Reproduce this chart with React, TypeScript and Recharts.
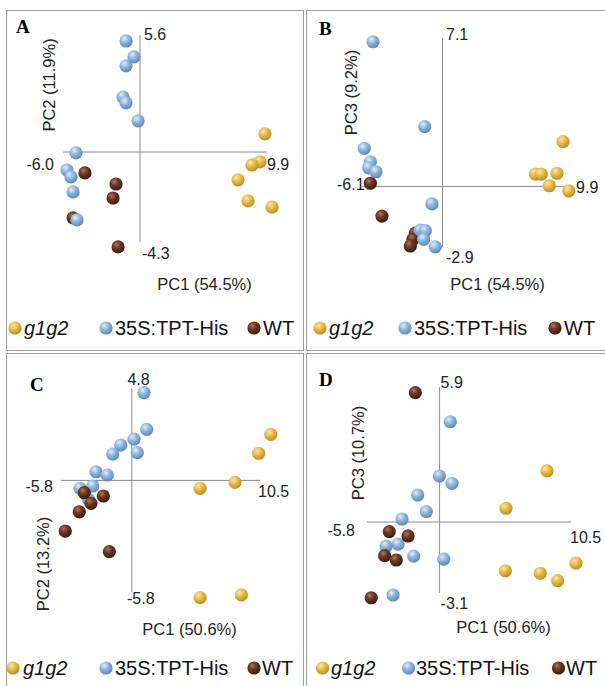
import React from 'react';
import { ScatterChart, Scatter, XAxis, YAxis, ReferenceLine, ReferenceDot } from 'recharts';

// ---------- data ----------
const seriesNames = ['g1g2', '35S:TPT-His', 'WT'];

// Panel A: PC1 vs PC2
const aG1g2 = [[9.74, 0.87], [9.35, -0.47], [8.73, -0.62], [7.64, -1.33], [8.42, -2.34], [10.29, -2.63]];
const aTpt = [[-1.09, 5.31], [-0.47, 4.55], [-1.09, 4.12], [-1.32, 2.63], [-1.09, 2.35], [-0.15, 1.49], [-4.99, -0.04], [-5.69, -0.86], [-5.38, -1.19], [-5.22, -1.91], [-4.91, -3.25]];
const aWt = [[-4.29, -1.0], [-1.87, -1.53], [-2.1, -2.2], [-5.22, -3.15], [-1.71, -4.54]];
const aXTicks = [-6.0, 9.9];
const aYTicks = [-4.3, 5.6];

// Panel B: PC1 vs PC3
const bG1g2 = [[9.14, 2.14], [7.04, 0.59], [7.49, 0.59], [8.68, 0.63], [8.1, 0.03], [9.57, -0.21]];
const bTpt = [[-5.27, 6.92], [-1.35, 2.86], [-5.93, 1.82], [-5.47, 1.18], [-5.6, 0.89], [-5.04, 0.7], [-0.8, -0.84], [-1.68, -2.09], [-1.3, -2.12], [-1.43, -2.53], [-0.55, -2.89]];
const bWt = [[-5.47, 0.15], [-4.59, -1.42], [-2.06, -2.24], [-2.24, -2.53], [-2.44, -2.85]];
const bXTicks = [-6.1, 9.9];
const bYTicks = [-2.9, 7.1];

// Panel C: PC1 vs PC2
const cG1g2 = [[11.38, 2.39], [10.39, 1.41], [8.45, -0.1], [5.59, -0.41], [5.59, -6.09], [8.97, -5.95]];
const cTpt = [[1.0, 4.56], [1.22, 2.65], [0.18, 2.14], [-0.91, 1.84], [-1.56, 1.37], [0.45, 1.44], [-2.93, 0.45], [-2.01, 0.28], [-4.24, -0.41], [-3.2, -0.29], [-3.56, -0.97]];
const cWt = [[-3.89, -0.64], [-2.33, -0.81], [-3.34, -1.19], [-4.3, -1.63], [-5.45, -2.63], [-1.84, -3.7]];
const cXTicks = [-5.8, 10.5];
const cYTicks = [-5.8, 4.8];

// Panel D: PC1 vs PC3
const dG1g2 = [[8.58, 2.23], [5.3, 0.6], [5.25, -2.13], [8.04, -2.24], [9.43, -2.56], [10.89, -1.8]];
const dTpt = [[0.85, 4.38], [-0.02, 2.01], [0.99, 1.69], [-1.75, 1.18], [-1.06, 0.45], [-3.0, 0.13], [-3.32, -0.97], [-4.28, -1.05], [-2.07, -1.49], [0.33, -1.62], [-3.72, -3.19]];
const dWt = [[-1.94, 5.65], [-4.02, -0.42], [-2.52, -0.61], [-4.39, -1.47], [-3.46, -1.66], [-5.46, -3.31]];
const dXTicks = [-5.8, 10.5];
const dYTicks = [-3.1, 5.9];

const xTitles = ['PC1 (54.5%)', 'PC1 (54.5%)', 'PC1 (50.6%)', 'PC1 (50.6%)'];
const yTitles = ['PC2 (11.9%)', 'PC3 (9.2%)', 'PC2 (13.2%)', 'PC3 (10.7%)'];
const panelLetters = ['A', 'B', 'C', 'D'];

const toPts = (arr: number[][]) => arr.map(([x, y]) => ({ x, y }));

// ---------- layout ----------
const FONT = '"Liberation Sans", Arial, Helvetica, sans-serif';
const GRAD = ['gYel', 'gBlu', 'gBrn'];

type Anchor = 'start' | 'middle' | 'end';
type Off = [number, number, Anchor];

// series always [g1g2, TPT, WT]; order = drawing order (last on top)
const panels = [
  {
    frame: { L: 6, T: 10, W: 298, H: 341 },
    origin: { ox: 140, oy: 152, sx: 12.83, sy: 20.91 },
    series: [aG1g2, aTpt, aWt], order: [0, 2, 1],
    xt: aXTicks, yt: aYTicks,
    off: { xMin: [-9, 18, 'end'] as Off, xMax: [0, 18, 'start'] as Off, yMax: [4, 5, 'start'] as Off, yMin: [2, 17, 'start'] as Off },
    letter: [16, 33], xTitle: [204.5, 290], yTitle: [55, 85],
    legend: { dotY: 328, base: 335, dots: [15, 106, 254], texts: [24, 115, 263] },
  },
  {
    frame: { L: 306, T: 10, W: 302, H: 341 },
    origin: { ox: 442.5, oy: 186.4, sx: 13.19, sy: 20.9 },
    series: [bG1g2, bTpt, bWt], order: [0, 2, 1],
    xt: bXTicks, yt: bYTicks,
    off: { xMin: [2.5, 3.6, 'end'] as Off, xMax: [3, 6.6, 'start'] as Off, yMax: [3.5, 2, 'start'] as Off, yMin: [3.5, 16, 'start'] as Off },
    letter: [319, 35], xTitle: [497.5, 290], yTitle: [357, 92.5],
    legend: { dotY: 328, base: 335, dots: [320, 405, 555], texts: [329, 414, 564] },
  },
  {
    frame: { L: 6, T: 353, W: 298, H: 340 },
    origin: { ox: 131.8, oy: 480.4, sx: 12.21, sy: 19.25 },
    series: [cG1g2, cTpt, cWt], order: [0, 1, 2],
    xt: cXTicks, yt: cYTicks,
    off: { xMin: [-8, 11.6, 'end'] as Off, xMax: [-2, 16.6, 'start'] as Off, yMax: [6.7, -3, 'middle'] as Off, yMin: [9, 12, 'middle'] as Off },
    letter: [30, 391], xTitle: [189.5, 635], yTitle: [48.5, 564],
    legend: { dotY: 668, base: 675, dots: [13, 106, 254], texts: [23, 115, 262] },
  },
  {
    frame: { L: 306, T: 353, W: 302, H: 340 },
    origin: { ox: 439.6, oy: 522, sx: 12.52, sy: 22.89 },
    series: [dG1g2, dTpt, dWt], order: [0, 1, 2],
    xt: dXTicks, yt: dYTicks,
    off: { xMin: [-12, 14, 'end'] as Off, xMax: [-1, 21, 'start'] as Off, yMax: [1, 1, 'start'] as Off, yMin: [1, 16, 'start'] as Off },
    letter: [319, 386], xTitle: [503.5, 633], yTitle: [364, 453],
    legend: { dotY: 668, base: 675, dots: [322.5, 408.5, 558.5], texts: [331, 416, 566] },
  },
];

const R = 6.6;

const sphereShape = (grad: string) => (props: any) => {
  const { cx, cy } = props;
  if (cx == null || cy == null) return <g />;
  return <circle cx={cx} cy={cy} r={R} fill={`url(#${grad})`} />;
};

const tickLabel = (text: string, off: Off) => (props: any) => {
  const vb = props.viewBox || {};
  const x = (vb.x ?? 0) + (vb.width ?? 0) / 2 + off[0];
  const y = (vb.y ?? 0) + (vb.height ?? 0) / 2 + off[1];
  return (
    <text x={x} y={y} textAnchor={off[2]} fontFamily={FONT} fontSize={16} fill="#222">
      {text}
    </text>
  );
};

function Panel({ p }: { p: (typeof panels)[number] }) {
  const { L, T, W, H } = p.frame;
  const { ox, oy, sx, sy } = p.origin;
  const xDom = [(L - ox) / sx, (L + W - ox) / sx];
  const yDom = [(oy - (T + H)) / sy, (oy - T) / sy];
  const [xMin, xMax] = p.xt;
  const [yMin, yMax] = p.yt;
  return (
    <div style={{ position: 'absolute', left: L, top: T, width: W, height: H }}>
      <ScatterChart width={W} height={H} margin={{ top: 0, right: 0, bottom: 0, left: 0 }}>
        <XAxis type="number" dataKey="x" domain={xDom} hide allowDataOverflow />
        <YAxis type="number" dataKey="y" domain={yDom} hide allowDataOverflow />
        <ReferenceLine segment={[{ x: xMin, y: 0 }, { x: xMax, y: 0 }]} stroke="#8a8a8a" strokeWidth={1} />
        <ReferenceLine segment={[{ x: 0, y: yMin }, { x: 0, y: yMax }]} stroke="#8a8a8a" strokeWidth={1} />
        <ReferenceDot x={xMin} y={0} r={0.01} fill="none" stroke="none" label={tickLabel(xMin.toFixed(1), p.off.xMin)} />
        <ReferenceDot x={xMax} y={0} r={0.01} fill="none" stroke="none" label={tickLabel(xMax.toFixed(1), p.off.xMax)} />
        <ReferenceDot x={0} y={yMax} r={0.01} fill="none" stroke="none" label={tickLabel(yMax.toFixed(1), p.off.yMax)} />
        <ReferenceDot x={0} y={yMin} r={0.01} fill="none" stroke="none" label={tickLabel(yMin.toFixed(1), p.off.yMin)} />
        {p.order.map((si) => (
          <Scatter
            key={si}
            name={seriesNames[si]}
            data={toPts(p.series[si])}
            shape={sphereShape(GRAD[si])}
            isAnimationActive={false}
          />
        ))}
      </ScatterChart>
    </div>
  );
}

export default function App() {
  return (
    <div style={{ position: 'absolute', left: 0, top: 0, width: 605, height: 686, background: '#fff', overflow: 'hidden' }}>
      <svg width={0} height={0} style={{ position: 'absolute' }}>
        <defs>
          <radialGradient id="gYel" cx="38%" cy="32%" r="70%">
            <stop offset="0%" stopColor="#fbe7a4" />
            <stop offset="45%" stopColor="#e8bb4a" />
            <stop offset="100%" stopColor="#b88a24" />
          </radialGradient>
          <radialGradient id="gBlu" cx="38%" cy="32%" r="70%">
            <stop offset="0%" stopColor="#e2eef9" />
            <stop offset="45%" stopColor="#8fb6de" />
            <stop offset="100%" stopColor="#5a87b8" />
          </radialGradient>
          <radialGradient id="gBrn" cx="38%" cy="32%" r="70%">
            <stop offset="0%" stopColor="#b27560" />
            <stop offset="40%" stopColor="#6e3a25" />
            <stop offset="100%" stopColor="#381a0e" />
          </radialGradient>
        </defs>
      </svg>
      {panels.map((p, i) => (
        <div
          key={'f' + i}
          style={{
            position: 'absolute', left: p.frame.L, top: p.frame.T, width: p.frame.W, height: p.frame.H,
            border: '1px solid #9c9c9c', boxSizing: 'border-box',
          }}
        />
      ))}
      {panels.map((p, i) => (
        <Panel key={'p' + i} p={p} />
      ))}
      <svg width={605} height={686} style={{ position: 'absolute', left: 0, top: 0, pointerEvents: 'none' }}>
        {panels.map((p, i) => (
          <g key={'t' + i}>
            <text x={p.letter[0]} y={p.letter[1]} fontFamily='"Liberation Serif", "Times New Roman", serif' fontWeight="bold" fontSize={19} fill="#000">
              {panelLetters[i]}
            </text>
            <text x={p.xTitle[0]} y={p.xTitle[1]} textAnchor="middle" fontFamily={FONT} fontSize={16.5} fill="#222">
              {xTitles[i]}
            </text>
            <text transform={`translate(${p.yTitle[0]},${p.yTitle[1]}) rotate(-90)`} textAnchor="middle" fontFamily={FONT} fontSize={16.5} fill="#222">
              {yTitles[i]}
            </text>
            {seriesNames.map((name, si) => (
              <g key={si}>
                <circle cx={p.legend.dots[si]} cy={p.legend.dotY} r={R} fill={`url(#${GRAD[si]})`} />
                <text x={p.legend.texts[si]} y={p.legend.base} fontFamily={FONT} fontSize={20} fontStyle={si === 0 ? 'italic' : 'normal'} fill="#111">
                  {name}
                </text>
              </g>
            ))}
          </g>
        ))}
      </svg>
    </div>
  );
}
